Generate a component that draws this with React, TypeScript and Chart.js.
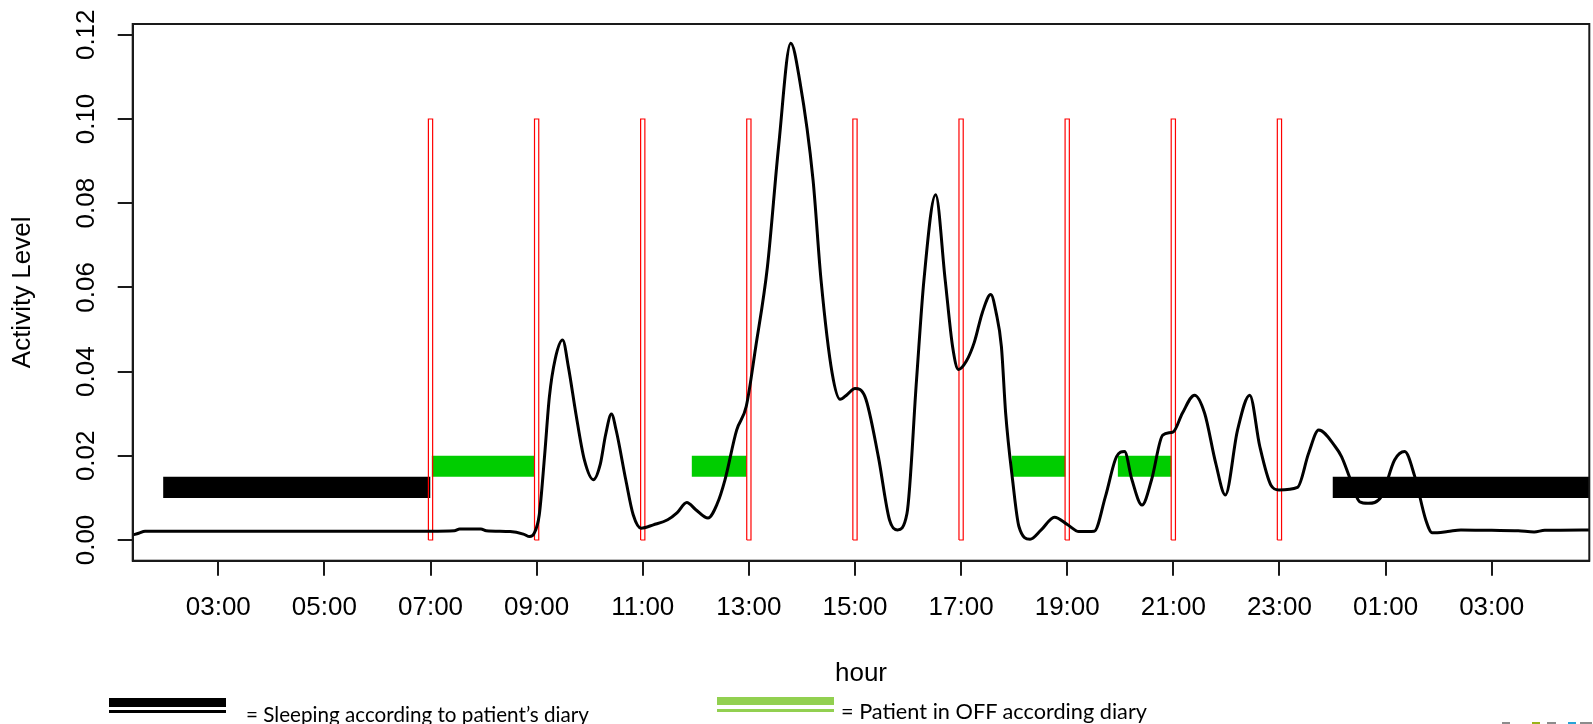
import React, { useEffect, useLayoutEffect, useRef } from "react";
import { Chart, registerables } from "chart.js";

Chart.register(...registerables);

// ---------- data ----------
const hours: number[] = [
  1.39, 1.5, 1.62, 2.5, 4.0, 5.5, 7.0, 7.45, 7.55, 7.95, 8.05, 8.5, 8.75, 8.87, 8.95,
  9.05, 9.15, 9.24, 9.35, 9.49, 9.6, 9.74, 9.9, 10.07, 10.2, 10.3, 10.41, 10.5, 10.68,
  10.82, 10.97, 11.2, 11.47, 11.65, 11.83, 12.0, 12.23, 12.4, 12.55, 12.77, 12.95,
  13.13, 13.35, 13.56, 13.79, 13.96, 14.21, 14.36, 14.57, 14.72, 14.85, 15.0, 15.19,
  15.44, 15.65, 15.8, 15.98, 16.16, 16.3, 16.52, 16.7, 16.84, 16.95, 17.1, 17.25,
  17.4, 17.56, 17.66, 17.76, 17.84, 17.97, 18.09, 18.3, 18.51, 18.76, 19.01, 19.22,
  19.51, 19.72, 19.93, 20.08, 20.22, 20.41, 20.59, 20.8, 21.0, 21.17, 21.4, 21.59,
  21.8, 21.98, 22.21, 22.44, 22.63, 22.84, 22.99, 23.34, 23.55, 23.74, 24.05, 24.17,
  24.34, 24.51, 24.67, 24.92, 25.17, 25.36, 25.55, 25.76, 25.88, 26.17, 26.42, 27.0,
  27.5, 27.8, 28.0, 28.84,
];
const activity: number[] = [
  0.0012, 0.0016, 0.0021, 0.0021, 0.0021, 0.0021, 0.0021, 0.0022, 0.0026, 0.0026, 0.0022,
  0.002, 0.0014, 0.0008, 0.0015, 0.006, 0.02, 0.034, 0.043, 0.0475, 0.041, 0.03, 0.019,
  0.0143, 0.018, 0.025, 0.0299, 0.026, 0.0143, 0.006, 0.0028, 0.0036, 0.0048, 0.0065,
  0.0089, 0.0072, 0.0052, 0.0085, 0.0143, 0.0261, 0.0317, 0.0459, 0.0649, 0.0934, 0.118,
  0.109, 0.0855, 0.0618, 0.0396, 0.0334, 0.0345, 0.036, 0.034, 0.0198, 0.0048, 0.0024,
  0.0063, 0.038, 0.0618, 0.082, 0.0618, 0.0459, 0.0405, 0.0425, 0.047, 0.054, 0.0583,
  0.054, 0.0459, 0.0301, 0.0143, 0.0032, 0.0002, 0.0024, 0.0054, 0.0036, 0.002, 0.0021,
  0.0103, 0.0198, 0.021, 0.0143, 0.0083, 0.0143, 0.0249, 0.0257, 0.0301, 0.0344, 0.0301,
  0.0182, 0.0107, 0.0261, 0.0344, 0.0222, 0.013, 0.0119, 0.0125, 0.0206, 0.0261, 0.0222,
  0.0198, 0.0143, 0.0091, 0.0087, 0.0103, 0.019, 0.021, 0.0151, 0.0047, 0.0017, 0.002,
  0.0024, 0.0023, 0.0022, 0.0019, 0.0023, 0.0024,
];

const markerHours: number[] = [7, 9, 11, 13, 15, 17, 19, 21, 23];
const markerTop = 0.1;

const sleepStart: number[] = [1.96, 24.0];
const sleepEnd: number[] = [7.0, 28.9];
const sleepLow = 0.01;
const sleepHigh = 0.015;

const offStart: number[] = [7.02, 11.92, 17.95, 19.95];
const offEnd: number[] = [8.97, 12.96, 18.97, 20.97];
const offLow = 0.015;
const offHigh = 0.02;

const xTickHours: number[] = [3, 5, 7, 9, 11, 13, 15, 17, 19, 21, 23, 25, 27];
const xTickLabels: string[] = [
  "03:00", "05:00", "07:00", "09:00", "11:00", "13:00", "15:00", "17:00",
  "19:00", "21:00", "23:00", "01:00", "03:00",
];
const yTickValues: number[] = [0, 0.02, 0.04, 0.06, 0.08, 0.1, 0.12];
const yTickLabels: string[] = ["0.00", "0.02", "0.04", "0.06", "0.08", "0.10", "0.12"];

const X_MIN = 1.387;
const X_MAX = 28.84;
const Y_MIN = -0.00492;
const Y_MAX = 0.12256;

// ---------- styles ----------
const FONT = "'Liberation Sans', Arial, Helvetica, sans-serif";
const LEGEND_FONT = "Lato, 'Open Sans', 'Noto Sans', sans-serif";
const MARKER_HALF = 0.04;

const boxPlugin = {
  id: "rbox",
  afterDraw(chart: any) {
    const { ctx, chartArea } = chart;
    ctx.save();
    ctx.strokeStyle = "#1a1a1a";
    ctx.lineWidth = 2;
    ctx.strokeRect(chartArea.left, chartArea.top, chartArea.right - chartArea.left, chartArea.bottom - chartArea.top);
    ctx.restore();
  },
};

function rectDataset(a: number, b: number, lo: number, hi: number, color: string) {
  return {
    type: "line" as const,
    data: [
      { x: a, y: hi },
      { x: b, y: hi },
    ],
    borderWidth: 0,
    borderColor: color,
    backgroundColor: color,
    pointRadius: 0,
    tension: 0,
    fill: { value: lo },
  };
}

export default function App() {
  const canvasRef = useRef<HTMLCanvasElement | null>(null);
  const textRefs = useRef<(HTMLSpanElement | null)[]>([]);

  useEffect(() => {
    const canvas = canvasRef.current;
    if (!canvas) return;

    const curve = hours.map((h, i) => ({ x: h, y: activity[i] }));
    const markers: any[] = [];
    markerHours.forEach((c) => {
      markers.push({ x: c - MARKER_HALF, y: 0 });
      markers.push({ x: c - MARKER_HALF, y: markerTop });
      markers.push({ x: c + MARKER_HALF, y: markerTop });
      markers.push({ x: c + MARKER_HALF, y: 0 });
      markers.push({ x: c - MARKER_HALF, y: 0 });
      markers.push({ x: c, y: null });
    });

    const datasets: any[] = [
      {
        type: "line",
        label: "Activity",
        data: curve,
        borderColor: "#000000",
        borderWidth: 3,
        pointRadius: 0,
        cubicInterpolationMode: "monotone",
        fill: false,
      },
      {
        type: "line",
        label: "markers",
        data: markers,
        borderColor: "#ff0000",
        borderWidth: 1.2,
        pointRadius: 0,
        tension: 0,
        spanGaps: false,
        fill: false,
      },
    ];
    offStart.forEach((s, i) => datasets.push(rectDataset(s, offEnd[i], offLow, offHigh, "#00cd00")));
    sleepStart.forEach((s, i) => datasets.push(rectDataset(s, sleepEnd[i], sleepLow, sleepHigh, "#000000")));

    const chart = new Chart(canvas, {
      type: "line",
      data: { datasets },
      options: {
        animation: false,
        responsive: false,
        maintainAspectRatio: false,
        devicePixelRatio: 1,
        parsing: true,
        layout: { padding: { left: 0, top: 24, right: 3.7, bottom: 0 } },
        plugins: { legend: { display: false }, tooltip: { enabled: false } },
        elements: { point: { radius: 0 } },
        scales: {
          x: {
            type: "linear",
            position: "bottom",
            min: X_MIN,
            max: X_MAX,
            afterBuildTicks: (s: any) => {
              s.ticks = xTickHours.map((v) => ({ value: v }));
            },
            afterFit: (s: any) => {
              s.height = 163.3;
            },
            grid: {
              display: true,
              drawOnChartArea: false,
              drawTicks: true,
              tickLength: 15,
              tickColor: "#1a1a1a",
              tickWidth: 2,
              lineWidth: 2,
            },
            border: { display: true, color: "#1a1a1a", width: 2 },
            ticks: {
              autoSkip: false,
              maxRotation: 0,
              minRotation: 0,
              padding: 17,
              color: "#000",
              font: { family: FONT, size: 26 },
              callback: (_v: any, i: number) => xTickLabels[i],
            },
            title: {
              display: true,
              text: "hour",
              color: "#000",
              font: { family: FONT, size: 26 },
              padding: { top: 0, bottom: 35 },
            },
          },
          y: {
            type: "linear",
            position: "left",
            min: Y_MIN,
            max: Y_MAX,
            afterBuildTicks: (s: any) => {
              s.ticks = yTickValues.map((v) => ({ value: v }));
            },
            afterFit: (s: any) => {
              s.width = 132.7;
            },
            grid: {
              display: true,
              drawOnChartArea: false,
              drawTicks: true,
              tickLength: 15,
              tickColor: "#1a1a1a",
              tickWidth: 2,
              lineWidth: 2,
            },
            border: { display: true, color: "#1a1a1a", width: 2 },
            ticks: {
              autoSkip: false,
              minRotation: 90,
              maxRotation: 90,
              crossAlign: "center",
              padding: 5.7,
              color: "#000",
              font: { family: FONT, size: 26 },
              callback: (_v: any, i: number) => yTickLabels[i],
            },
            title: {
              display: true,
              text: "Activity Level",
              color: "#000",
              font: { family: FONT, size: 26 },
              padding: { top: 7.4, bottom: 0 },
            },
          },
        },
      } as any,
      plugins: [boxPlugin],
    });

    return () => chart.destroy();
  }, []);

  const legendTexts = ["= Sleeping according to patient\u2019s diary", "= Patient in OFF according diary"];
  const legendTextLeft = [245.5, 840.5];
  const legendTextTop = [704, 700.6];
  const legendTextWidth = [343, 306];

  useLayoutEffect(() => {
    textRefs.current.forEach((el, i) => {
      if (!el) return;
      el.style.transform = "none";
      const w = el.getBoundingClientRect().width;
      if (w > 0) el.style.transform = `scaleX(${legendTextWidth[i] / w})`;
    });
  });

  const abs = (l: number, t: number, w: number, h: number, bg: string): React.CSSProperties => ({
    position: "fixed",
    left: l,
    top: t,
    width: w,
    height: h,
    background: bg,
  });

  return (
    <div style={{ position: "fixed", left: 0, top: 0, width: 1593, height: 724, background: "#fff", overflow: "hidden" }}>
      <canvas ref={canvasRef} width={1593} height={724} style={{ position: "absolute", left: 0, top: 0, width: 1593, height: 724 }} />
      {/* legend: sleeping */}
      <div style={abs(109, 698.3, 117, 8.4, "#000")} />
      <div style={abs(109, 710, 117, 2.8, "#000")} />
      {/* legend: OFF */}
      <div style={abs(717.3, 696.7, 116.7, 8.3, "#92d050")} />
      <div style={abs(717.3, 709.3, 116.7, 2.5, "#92d050")} />
      {legendTexts.map((t, i) => (
        <span
          key={i}
          ref={(el) => {
            textRefs.current[i] = el;
          }}
          style={{
            position: "fixed",
            left: legendTextLeft[i],
            top: legendTextTop[i],
            fontFamily: LEGEND_FONT,
            fontSize: 20.5,
            lineHeight: "20px",
            color: "#000",
            whiteSpace: "nowrap",
            transformOrigin: "left top",
          }}
        >
          {t}
        </span>
      ))}
      {/* partial logo at bottom right */}
      <div style={abs(1501.7, 721.7, 8.3, 2.3, "#8c8c8c")} />
      <div style={abs(1531.7, 721.7, 8.3, 2.3, "#9ab31a")} />
      <div style={abs(1547, 721.7, 9, 2.3, "#8c8c8c")} />
      <div style={abs(1568, 721.7, 8, 2.3, "#29a3d6")} />
      <div style={abs(1580, 721.7, 12, 2.3, "#8c8c8c")} />
    </div>
  );
}
